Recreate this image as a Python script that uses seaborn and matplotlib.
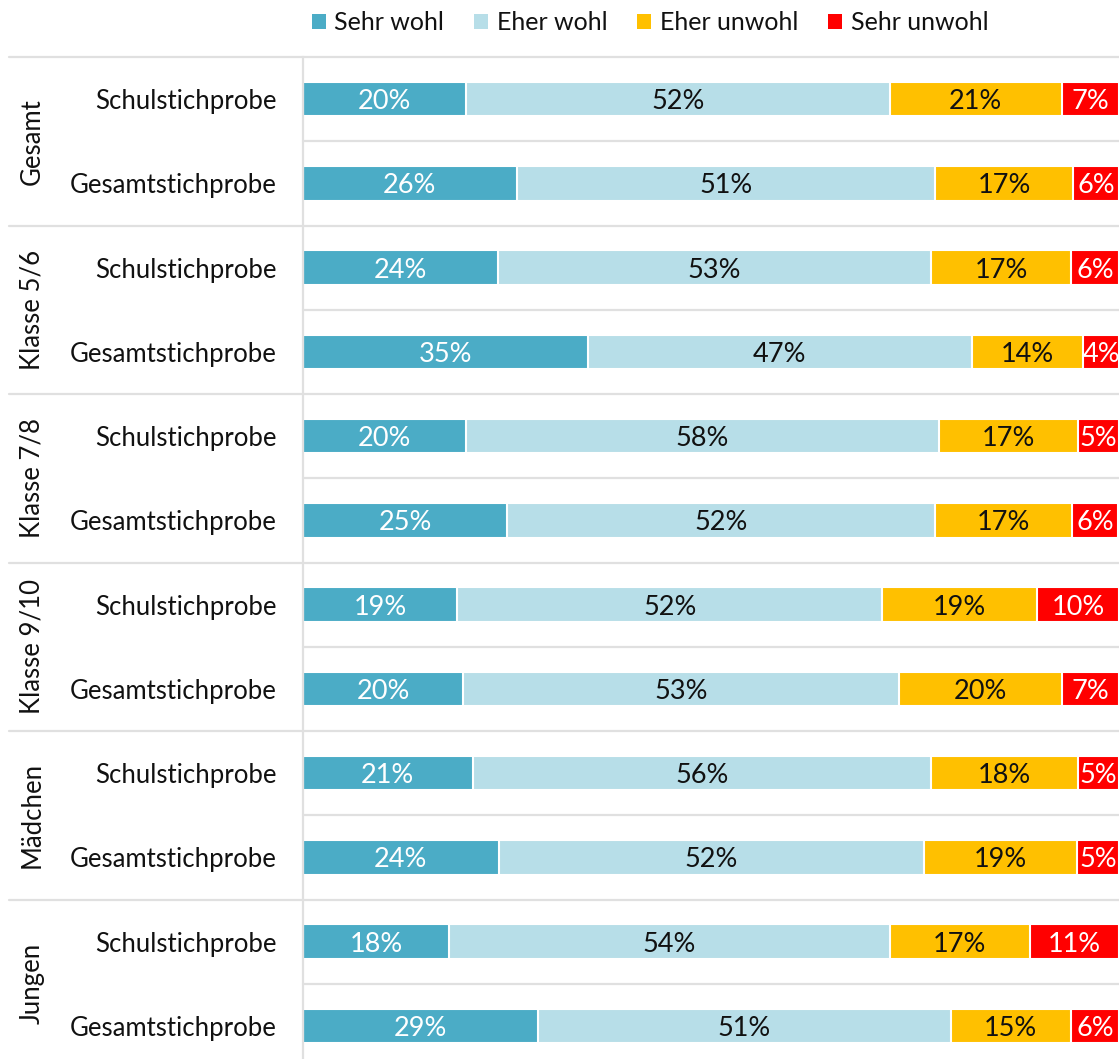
import matplotlib
matplotlib.use("Agg")
import matplotlib.pyplot as plt
import matplotlib.transforms as mtransforms
from matplotlib.patches import Patch
import seaborn as sns
import pandas as pd
import numpy as np

# ---- data ----
groups = ["Gesamt", "Klasse 5/6", "Klasse 7/8", "Klasse 9/10", "Mädchen", "Jungen"]
samples = ["Schulstichprobe", "Gesamtstichprobe"]
categories = ["Sehr wohl", "Eher wohl", "Eher unwohl", "Sehr unwohl"]
colors = ["#4BACC6", "#B7DEE8", "#FFC000", "#FF0000"]
text_colors = ["white", "black", "black", "white"]

sehr_wohl   = [20.0, 26.2, 23.9, 34.9, 20.0, 25.0, 18.9, 19.6, 20.8, 24.0, 17.9, 28.8]
eher_wohl   = [51.9, 51.3, 53.1, 47.1, 57.9, 52.4, 52.1, 53.4, 56.2, 52.1, 54.0, 50.6]
eher_unwohl = [21.1, 16.9, 17.1, 13.6, 17.1, 16.9, 19.0, 20.0, 18.0, 18.8, 17.2, 14.7]
sehr_unwohl = [7.0, 5.6, 5.9, 4.4, 5.0, 5.6, 10.0, 7.0, 5.0, 5.1, 10.9, 5.9]

series = [sehr_wohl, eher_wohl, eher_unwohl, sehr_unwohl]
row_ids = [f"r{i}" for i in range(len(sehr_wohl))]
row_labels = [s for g in groups for s in samples]

df = pd.DataFrame({"row": row_ids})
cum = np.zeros(len(row_ids))
cums = []
for name, vals in zip(categories, series):
    cum = cum + np.array(vals)
    df[name] = vals
    df[name + "_cum"] = cum
    cums.append(cum.copy())

# ---- style ----
sns.set_theme(style="white")
plt.rcParams["font.family"] = ["Lato", "DejaVu Sans"]
FS = 18.5
FS_VAL = 19.5
FS_LEG = 18
TXT = "#111111"
W, H = 1119, 1059
fig = plt.figure(figsize=(W / 100, H / 100), dpi=100)
ax_left = 303 / W
ax_top = 1 - 57 / H
ax_bottom = 1 - 1068 / H
ax = fig.add_axes([ax_left, ax_bottom, 1 - ax_left, ax_top - ax_bottom])

gridc = "#e0e0e0"

# stacked bars, drawn from the longest cumulative to the shortest
for k in range(len(categories) - 1, -1, -1):
    sns.barplot(data=df, x=categories[k] + "_cum", y="row", order=row_ids,
                orient="h", color=colors[k], saturation=1, width=0.41,
                edgecolor="white", linewidth=1.5, errorbar=None, ax=ax, zorder=2)

# value labels
for k in range(len(categories)):
    for i, v in enumerate(series[k]):
        center = cums[k][i] - v / 2
        ax.text(center, i + 0.03, f"{v:.0f}%", ha="center", va="center",
                color=text_colors[k] if text_colors[k] == "white" else TXT,
                fontsize=FS_VAL, zorder=5)

ax.set_xlim(0, 100)
ax.set_ylim(len(row_ids) - 0.5, -0.5)
ax.set_xlabel("")
ax.set_ylabel("")
ax.set_xticks([])
ax.set_yticks(range(len(row_ids)))
ax.set_yticklabels(row_labels, fontsize=FS, color=TXT)
ax.tick_params(axis="y", length=0, pad=19)

for s in ["top", "right", "bottom"]:
    ax.spines[s].set_visible(False)
ax.spines["left"].set_color(gridc)
ax.spines["left"].set_linewidth(1.6)

trans = mtransforms.blended_transform_factory(ax.transAxes, ax.transData)
x_far = (9 - 303) / (W - 303)
n_per = len(samples)
for i in range(len(row_ids) + 1):
    y = i - 0.5
    if i % n_per == 0:
        ax.plot([x_far, 1], [y, y], transform=trans, color=gridc, lw=1.6,
                clip_on=False, zorder=0.5)
    else:
        ax.plot([0, 1], [y, y], transform=trans, color=gridc, lw=1.6,
                clip_on=False, zorder=0.5)

x_grp = (32 - 303) / (W - 303)
for gi, g in enumerate(groups):
    yc = gi * n_per + (n_per - 1) / 2
    ax.text(x_grp, yc, g, transform=trans, rotation=90, ha="center",
            va="center", fontsize=FS, color=TXT)

handles = [Patch(facecolor=c, edgecolor="none") for c in colors]
fig.legend(handles, categories, loc="center", ncol=4,
           bbox_to_anchor=(650 / W, 1 - 23 / H), frameon=False,
           fontsize=FS_LEG, handlelength=0.55, handleheight=0.55,
           handletextpad=0.35, columnspacing=1.2, labelcolor=TXT)

fig.savefig("out.png", dpi=100)
